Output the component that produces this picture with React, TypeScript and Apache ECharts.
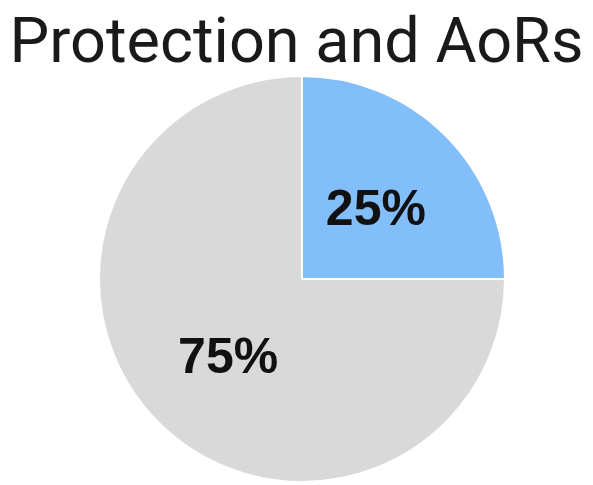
import React, { useEffect, useRef } from "react";
import * as echarts from "echarts";

const titleText = "Protection and AoRs";
const categories = ["Protection and AoRs", "Other"];
const values = [25, 75];
const colors = ["#82BEFA", "#D9D9D9"];

export default function App() {
  const ref = useRef<HTMLDivElement>(null);
  useEffect(() => {
    document.body.style.margin = "0";
    const chart = echarts.init(ref.current!, null, { renderer: "svg" });
    chart.setOption({
      animation: false,
      backgroundColor: "#ffffff",
      title: {
        text: titleText,
        left: "center",
        top: 4,
        textStyle: {
          fontFamily: "Roboto",
          fontWeight: "normal",
          fontSize: 63,
          color: "#1a1a1a",
        },
      },
      series: [
        {
          type: "pie",
          center: [302, 279],
          radius: [0, 203],
          startAngle: 90,
          clockwise: true,
          data: categories.map((c, i) => ({
            name: c,
            value: values[i],
            itemStyle: { color: colors[i] },
          })),
          itemStyle: { borderColor: "#ffffff", borderWidth: 2 },
          label: {
            show: true,
            position: "inside",
            formatter: (p: any) => `${p.value}%`,
            fontFamily: "Liberation Sans, Arial, sans-serif",
            fontWeight: "bold",
            fontSize: 50,
            color: "#111111",
            offset: [0, 3],
          },
          labelLine: { show: false },
          emphasis: { disabled: true },
        },
      ],
    });
    return () => chart.dispose();
  }, []);
  return <div ref={ref} style={{ width: 593, height: 485 }} />;
}
